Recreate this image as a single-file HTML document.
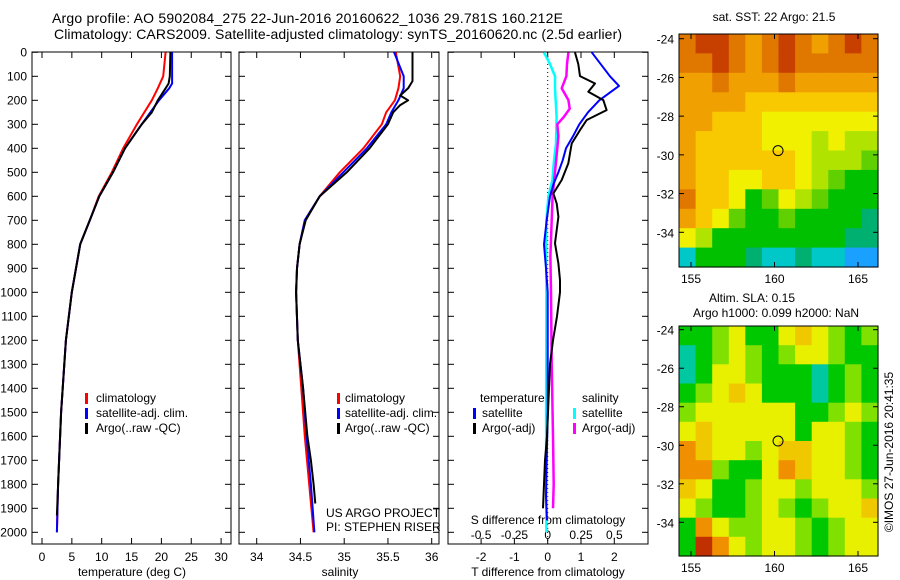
<!DOCTYPE html>
<html><head><meta charset="utf-8">
<style>
html,body{margin:0;padding:0;background:#fff;}
svg{display:block;font-family:"Liberation Sans",sans-serif;}
</style></head>
<body>
<svg id="fig" width="900" height="580" viewBox="0 0 900 580" xmlns="http://www.w3.org/2000/svg">
<text x="52" y="23" font-size="14" textLength="511">Argo profile: AO 5902084_275 22-Jun-2016 20160622_1036 29.781S 160.212E</text>
<text x="54" y="39" font-size="14" textLength="568">Climatology: CARS2009. Satellite-adjusted climatology: synTS_20160620.nc (2.5d earlier)</text>
<g id="g"></g>
</svg>
<script>
// ---------- data ----------
const tempDepthClim = [0,100,150,200,300,400,500,600,700,800,1000,1200,1500,1800,2000];
const tempClim      = [20.7,20.3,19.4,18.4,15.9,13.6,11.7,9.5,8.0,6.4,5.0,4.0,3.2,2.7,2.5];
const tempDepthSat  = [0,130,150,200,300,400,500,600,700,800,1000,1200,1500,1800,2000];
const tempSat       = [21.8,21.8,21.3,19.6,16.7,13.9,11.9,9.6,8.0,6.4,5.0,4.0,3.2,2.7,2.5];
const tempDepthArgo = [0,100,130,150,200,250,300,400,500,600,700,800,1000,1200,1500,1800,1930];
const tempArgo      = [21.5,21.4,21.2,20.7,19.4,18.4,16.7,13.9,11.9,9.6,8.0,6.4,5.0,4.0,3.2,2.7,2.5];

const salDepth      = [0,100,150,200,250,300,400,500,600,700,800,900,1000,1200,1400,1600,1800,2000];
const salClim       = [35.59,35.64,35.62,35.58,35.48,35.43,35.22,34.95,34.72,34.55,34.49,34.46,34.45,34.47,34.51,34.55,34.60,34.65];
const salSat        = [35.57,35.68,35.68,35.62,35.54,35.48,35.26,34.99,34.72,34.55,34.49,34.46,34.45,34.47,34.53,34.57,34.62,34.66];
const salDepthArgo  = [0,120,150,180,200,220,250,300,400,500,600,700,800,900,1000,1200,1400,1600,1700,1800,1880];
const salArgo       = [35.78,35.78,35.73,35.64,35.73,35.64,35.56,35.50,35.29,35.03,34.72,34.56,34.49,34.46,34.45,34.47,34.53,34.58,34.62,34.65,34.67];

const dDepthSatT  = [0,100,140,200,250,300,350,400,450,500,550,600,700,800,900,1000,1500,1850,1950];
const dSatT       = [1.32,1.87,2.14,1.55,1.21,0.95,0.76,0.55,0.45,0.32,0.17,0.07,-0.03,-0.11,-0.05,0.0,0.0,-0.05,-0.02];
const dDepthArgoT = [1,49,99,130,164,199,241,282,324,380,463,532,588,630,685,796,880,949,1000,1100,1200,1300,1400,1500,1600,1700,1800,1900];
const dArgoT      = [0.82,0.92,0.97,1.42,1.22,1.67,1.77,1.17,0.97,0.72,0.62,0.42,0.17,0.27,0.32,0.22,0.32,0.37,0.37,0.28,0.16,0.07,0.04,0.01,-0.02,-0.08,-0.11,-0.14];
const dDepthSatS  = [1,49,99,150,270,380,463,532,600,700,850,1000,1500,2000];
const dSatS       = [-0.028,0.017,0.055,0.055,0.067,0.062,0.045,0.035,0.005,-0.01,-0.012,-0.01,-0.012,-0.01];
const dDepthArgoS = [1,49,99,150,199,235,270,300,350,400,500,600,700,850,1000,1300,1600,1800,1900];
const dArgoS      = [0.155,0.145,0.14,0.105,0.155,0.165,0.12,0.072,0.08,0.072,0.055,0.037,0.03,0.02,0.025,0.03,0.04,0.045,0.04];

const yTicks = [0,100,200,300,400,500,600,700,800,900,1000,1100,1200,1300,1400,1500,1600,1700,1800,1900,2000];
const tTicks = [0,5,10,15,20,25,30];
const sTicks = [34,34.5,35,35.5,36];
const dTTicks = [-2,-1,0,1,2];
const dSTicks = [-0.5,-0.25,0,0.25,0.5];
const latTicks = [-24,-26,-28,-30,-32,-34];
const lonTicks = [155,160,165];

const sstGrid = [
[9,10,10,9,8,9,10,9,8,9,10,9],
[9,9,10,9,8,9,10,9,9,9,9,9],
[8,8,9,8,8,8,9,8,8,8,8,8],
[8,8,8,8,7,7,7,7,7,7,7,7],
[8,8,7,7,7,6,6,6,6,6,6,6],
[8,7,7,7,7,6,6,6,5,6,5,5],
[8,7,7,7,7,7,7,6,5,5,5,4],
[8,7,7,6,6,7,7,6,5,4,3,3],
[9,7,7,6,3,4,6,5,4,3,3,3],
[8,7,6,4,3,3,4,3,3,3,3,2],
[6,5,3,3,3,3,3,3,3,3,2,2],
[1,3,3,3,2,1,1,2,1,1,0,0]];
const sstColors = ["#1aa0ff","#00c8c8","#00b070","#00c000","#60d000","#b0e400","#f0f000","#f8c800","#f0a000","#e07800","#c84000"];
const slaGrid = [
[2,2,3,4,2,2,4,5,4,3,2,3],
[1,2,3,4,3,2,3,4,4,3,2,2],
[1,2,4,4,3,2,2,2,1,2,3,2],
[2,3,4,5,4,2,2,2,1,2,3,2],
[3,4,4,4,4,4,4,2,2,3,4,3],
[4,5,4,4,4,4,4,2,4,4,3,2],
[6,5,4,4,3,4,5,5,4,4,3,2],
[6,6,3,2,2,4,6,5,4,4,3,2],
[5,4,2,2,3,4,4,3,4,4,4,3],
[4,3,2,2,3,4,3,2,3,4,4,5],
[2,6,4,3,3,4,4,3,2,3,4,4],
[2,7,6,4,3,4,4,3,2,3,4,4]];
const slaColors = ["#00c8e0","#00c8a0","#00c800","#80e000","#e8f000","#f0c800","#f09000","#c03000"];
const argoLon = 160.212, argoLat = -29.781;

// ---------- helpers ----------
const NS="http://www.w3.org/2000/svg";
const G=document.getElementById('g');
function el(tag,attrs,parent){const e=document.createElementNS(NS,tag);for(const k in attrs)e.setAttribute(k,attrs[k]);(parent||G).appendChild(e);return e;}
const yD = d => 52.3 + d*0.24;
const PB = 544;

function panel(x0,x1,name){
  const r=el('rect',{x:x0,y:52,width:x1-x0,height:PB-52,fill:'none',stroke:'#000','stroke-width':1});
  
  
  yTicks.forEach(d=>{
    el('line',{x1:x0,x2:x0+6,y1:yD(d),y2:yD(d),stroke:'#000'});
    el('line',{x1:x1,x2:x1-6,y1:yD(d),y2:yD(d),stroke:'#000'});
  });
}
function line(xs,ds,fx,color,name,w){
  const pts=xs.map((v,i)=>fx(v).toFixed(1)+','+yD(ds[i]).toFixed(1)).join(' ');
  const p=el('polyline',{points:pts,fill:'none',stroke:color,'stroke-width':w||2,'stroke-linejoin':'round'});
  
  
}
function txt(x,y,s,size,anchor,name){
  const t=el('text',{x:x,y:y,'font-size':size||12,'text-anchor':anchor||'start'});
  t.textContent=s;
  
  
  return t;
}
function legBar(x,y,color){el('rect',{x:x,y:y-9,width:3,height:11,fill:color});}

// ---------- panel 1 ----------
const xT = v => 42 + v*5.97;
panel(32,231,'temperature-panel');
yTicks.forEach(d=>txt(27,yD(d)+4,String(d),12,'end','depth-tick-label'));
tTicks.forEach(v=>{
  el('line',{x1:xT(v),x2:xT(v),y1:PB,y2:PB-6,stroke:'#000'});
  el('line',{x1:xT(v),x2:xT(v),y1:52,y2:58,stroke:'#000'});
  txt(xT(v),561,String(v),12,'middle','temperature-tick-label');
});
txt(132,576,'temperature (deg C)',12,'middle','temperature-axis-title');
line(tempClim,tempDepthClim,xT,'#ff0000','temperature-climatology-line');
line(tempSat,tempDepthSat,xT,'#0000ff','temperature-satellite-line');
line(tempArgo,tempDepthArgo,xT,'#000000','temperature-argo-line');
legBar(85,402,'#ff0000');txt(96,402,'climatology',12,'start','legend-climatology');
legBar(85,417,'#0000ff');txt(96,417,'satellite-adj. clim.',12,'start','legend-satellite');
legBar(85,432,'#000');txt(96,432,'Argo(..raw -QC)',12,'start','legend-argo');

// ---------- panel 2 ----------
const xS = v => 256.7 + (v-34)*87.5;
panel(239,439,'salinity-panel');
sTicks.forEach(v=>{
  el('line',{x1:xS(v),x2:xS(v),y1:PB,y2:PB-6,stroke:'#000'});
  el('line',{x1:xS(v),x2:xS(v),y1:52,y2:58,stroke:'#000'});
  txt(xS(v),561,String(v),12,'middle','salinity-tick-label');
});
txt(340,576,'salinity',12,'middle','salinity-axis-title');
line(salClim,salDepth,xS,'#ff0000','salinity-climatology-line');
line(salSat,salDepth,xS,'#0000ff','salinity-satellite-line');
line(salArgo,salDepthArgo,xS,'#000000','salinity-argo-line');
legBar(337,402,'#ff0000');txt(345,402,'climatology',12,'start','legend-climatology');
legBar(337,417,'#0000ff');txt(345,417,'satellite-adj. clim.',12,'start','legend-satellite');
legBar(337,432,'#000');txt(345,432,'Argo(..raw -QC)',12,'start','legend-argo');
txt(326,517,'US ARGO PROJECT',12,'start','project-label');
txt(326,531,'PI: STEPHEN RISER',12,'start','pi-label');

// ---------- panel 3 ----------
const xDT = v => 547.7 + v*33.3;
const xDS = v => 547.7 + v*133.3;
panel(448,648,'difference-panel');
el('line',{x1:547.7,x2:547.7,y1:52,y2:PB,stroke:'#000','stroke-dasharray':'1,3'});
dTTicks.forEach(v=>{
  el('line',{x1:xDT(v),x2:xDT(v),y1:PB,y2:PB-6,stroke:'#000'});
  el('line',{x1:xDT(v),x2:xDT(v),y1:52,y2:58,stroke:'#000'});
  txt(xDT(v),561,String(v),12,'middle','t-diff-tick-label');
});
dSTicks.forEach(v=>txt(xDS(v),539,String(v),12,'middle','s-diff-tick-label'));
txt(548,524,'S difference from climatology',12,'middle','s-diff-axis-title');
txt(548,576,'T difference from climatology',12,'middle','t-diff-axis-title');
line(dSatS,dDepthSatS,xDS,'#00ffff','salinity-satellite-diff-line',2.5);
line(dArgoS,dDepthArgoS,xDS,'#ff00ff','salinity-argo-diff-line',2.5);
line(dSatT,dDepthSatT,xDT,'#0000ff','temperature-satellite-diff-line');
line(dArgoT,dDepthArgoT,xDT,'#000000','temperature-argo-diff-line');
txt(480,402,'temperature',12,'start','legend-temperature-heading');
legBar(473,417,'#0000ff');txt(482,417,'satellite',12,'start','legend-temp-satellite');
legBar(473,432,'#000');txt(482,432,'Argo(-adj)',12,'start','legend-temp-argo');
txt(582,402,'salinity',12,'start','legend-salinity-heading');
legBar(573,417,'#00ffff');txt(582,417,'satellite',12,'start','legend-sal-satellite');
legBar(573,432,'#ff00ff');txt(582,432,'Argo(-adj)',12,'start','legend-sal-argo');

// ---------- maps ----------
function map(y0,y1,lat24y,lat34y,grid,colors,name){
  const x0=679,x1=878;
  const lonX = v => 691 + (v-155)*16.7;
  const latY = v => lat24y + (-24 - v)*(lat34y-lat24y)/10;
  const rows=grid.length, cols=grid[0].length;
  const cw=(x1-x0)/cols, ch=(y1-y0)/rows;
  grid.forEach((row,r)=>row.forEach((v,c)=>{
    const cell=el('rect',{x:(x0+c*cw).toFixed(1),y:(y0+r*ch).toFixed(1),width:(cw+0.6).toFixed(1),height:(ch+0.6).toFixed(1),fill:colors[v]});
    
    
  }));
  const b=el('rect',{x:x0,y:y0,width:x1-x0,height:y1-y0,fill:'none',stroke:'#000'});
  
  
  latTicks.forEach(v=>{
    el('line',{x1:x0,x2:x0+5,y1:latY(v),y2:latY(v),stroke:'#000'});
    el('line',{x1:x1,x2:x1-5,y1:latY(v),y2:latY(v),stroke:'#000'});
    txt(x0-5,latY(v)+5,String(v),12,'end','latitude-tick-label');
  });
  lonTicks.forEach(v=>{
    el('line',{x1:lonX(v),x2:lonX(v),y1:y0,y2:y0+5,stroke:'#000'});
    el('line',{x1:lonX(v),x2:lonX(v),y1:y1,y2:y1-5,stroke:'#000'});
    txt(lonX(v),y1+16,String(v),12,'middle','longitude-tick-label');
  });
  const c=el('circle',{cx:lonX(argoLon),cy:latY(argoLat),r:5,fill:'none',stroke:'#000'});
  
  
}
txt(774,21,'sat. SST: 22 Argo: 21.5',12,'middle','sst-map-title');
map(34,267,38.7,232.3,sstGrid,sstColors,'sst-map');
txt(752,302,'Altim. SLA: 0.15',12,'middle','sla-map-title-1');
txt(776,317,'Argo h1000: 0.099 h2000: NaN',12,'middle','sla-map-title-2');
map(326,556,329.7,522.3,slaGrid,slaColors,'sla-map');
const st=txt(0,0,'©IMOS 27-Jun-2016 20:41:35',12,'middle','timestamp-label');
st.setAttribute('transform','translate(893,452) rotate(-90)');
</script>
</body></html>
